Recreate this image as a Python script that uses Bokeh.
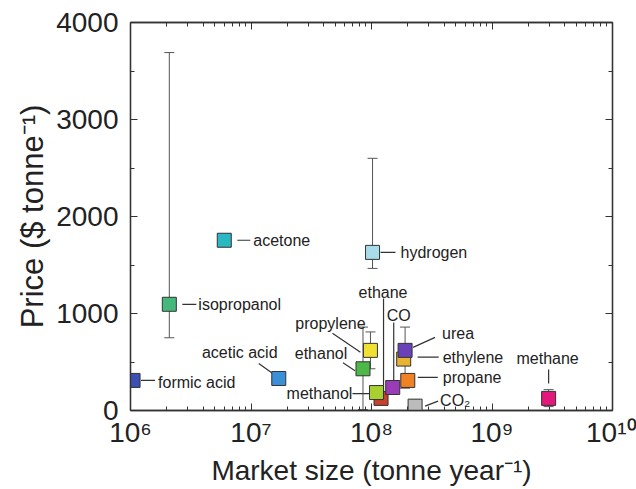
import math
from bokeh.plotting import figure
from bokeh.models import (ColumnDataSource, FixedTicker, LogAxis, LinearAxis,
                          CustomJSTickFormatter, Range1d)
from bokeh.embed import file_html
from bokeh.resources import INLINE
from bokeh.core.properties import value

# ---------------- data ----------------
names = ["formic acid", "isopropanol", "acetone", "acetic acid", "hydrogen",
         "propylene", "ethanol", "ethane", "methanol", "CO", "ethylene",
         "urea", "propane", "CO\u2082", "methane"]
market = [1.05e6, 2.1e6, 6.0e6, 1.7e7, 1.02e8,
          9.8e7, 8.5e7, 1.2e8, 1.1e8, 1.5e8, 1.85e8,
          1.9e8, 2.0e8, 2.3e8, 2.95e9]
price = [310, 1095, 1755, 330, 1630,
         620, 430, 125, 185, 237, 530,
         620, 310, 45, 125]

err_names = ["isopropanol", "hydrogen", "propylene", "ethanol", "urea", "CO\u2082", "methane"]
err_low = [750, 1465, 430, 10, 230, 20, 40]
err_high = [3690, 2600, 810, 860, 860, 110, 215]

x_ticks = [1e6, 1e7, 1e8, 1e9, 1e10]
y_ticks = [0, 1000, 2000, 3000, 4000]

# ---------------- styles ----------------
colors = {
    "formic acid": "#3b4fb4", "isopropanol": "#45b97c", "acetone": "#2bb8c2",
    "acetic acid": "#3a8fd6", "hydrogen": "#a9dcea", "propylene": "#f0e032",
    "ethanol": "#4db848", "ethane": "#c8402e", "methanol": "#a8d030",
    "CO": "#9a3cb8", "ethylene": "#e8b232", "urea": "#6a42b8",
    "propane": "#f08224", "CO\u2082": "#bcbcbc", "methane": "#e4187c",
}
# label placement in screen pixels relative to the marker centre:
# (text dx, text dy, align, leader x0, y0, x1, y1)
label_style = {
    "formic acid": (25, 2, "left", 8, 0, 22, 0),
    "isopropanol": (29, 0, "left", 13, 0, 27, 0),
    "acetone": (29, 0, "left", 13, 0, 26, 0),
    "acetic acid": (-39, -26, "center", -20, -15, -6, -5),
    "hydrogen": (28, 0, "left", 8, 0, 23, 0),
    "propylene": (-40, -27, "center", -38, -17, -10, 2),
    "ethanol": (-42, -15, "center", -20, -6, -8, 2),
    "ethane": (2, -106, "center", 2.5, -100, 2.5, -6),
    "methanol": (-57, 1, "center", -24, 1, -7, 1),
    "CO": (6, -72, "center", 1, -65, 1, -7),
    "ethylene": (39, -2, "left", 14, -2, 35, -2),
    "urea": (37, -17, "left", 30, -13, 8, -3),
    "propane": (35, -3, "left", 10, -3, 30, -3),
    "CO\u2082": (25, -6, "left", 10, 0, 23, -5),
    "methane": (-1, -40, "center", 0, -29, 0, -15),
}

FONT = "Liberation Sans"
W, H = 636, 489
ML, MR, MT, MB = 130, 24, 22, 79
PX_PER_DECADE = (W - ML - MR) / 4.0
PX_PER_UNIT = (H - MT - MB) / 4000.0


def shift_x(x, dx):
    return x * 10 ** (dx / PX_PER_DECADE)


def shift_y(y, dy):
    return y - dy / PX_PER_UNIT


p = figure(width=W, height=H, x_axis_type="log",
           x_range=Range1d(1e6, 1e10), y_range=Range1d(0, 4000),
           output_backend="svg", toolbar_location=None,
           min_border_left=ML, min_border_right=MR,
           min_border_top=MT, min_border_bottom=MB)
p.grid.visible = False
p.outline_line_color = "#333333"
p.outline_line_width = 1.3
p.background_fill_color = "white"
p.border_fill_color = "white"

x_minor = [k * 10 ** e for e in range(6, 10) for k in range(2, 10)]
xt = FixedTicker(ticks=x_ticks, minor_ticks=x_minor)
yt = FixedTicker(ticks=y_ticks, minor_ticks=[500, 1500, 2500, 3500])

sup_fmt = CustomJSTickFormatter(code="""
const sup = {"0":"\u2070","1":"\u00b9","2":"\u00b2","3":"\u00b3","4":"\u2074",
             "5":"\u2075","6":"\u2076","7":"\u2077","8":"\u2078","9":"\u2079"};
const e = Math.round(Math.log10(tick));
return "10" + String(e).split("").map(c => sup[c]).join("");
""")


def style_axis(ax):
    ax.axis_line_color = "#333333"
    ax.axis_line_width = 1.3
    ax.major_tick_line_color = "#333333"
    ax.minor_tick_line_color = "#333333"
    ax.major_tick_in = 7
    ax.major_tick_out = 0
    ax.minor_tick_in = 4
    ax.minor_tick_out = 0
    ax.major_label_text_font = FONT
    ax.axis_label_text_font = FONT
    ax.major_label_text_color = "#222222"
    ax.axis_label_text_color = "#222222"
    ax.axis_label_text_font_style = "normal"


xa = p.xaxis[0]
xa.ticker = xt
xa.formatter = sup_fmt
style_axis(xa)
xa.major_label_text_font_size = "28px"
xa.axis_label = "Market size (tonne year\u207b\u00b9)"
xa.axis_label_text_font_size = "28px"
xa.major_label_standoff = 6
xa.axis_label_standoff = 4

ya = p.yaxis[0]
ya.ticker = yt
style_axis(ya)
ya.major_label_text_font_size = "28px"
ya.axis_label = "Price ($ tonne\u207b\u00b9)"
ya.axis_label_text_font_size = "31px"
ya.major_label_standoff = 12
ya.axis_label_standoff = 3

top = LogAxis(ticker=xt)
style_axis(top)
top.major_label_text_font_size = "1px"
top.major_label_text_alpha = 0
top.major_label_standoff = 0
p.add_layout(top, "above")
right = LinearAxis(ticker=yt)
style_axis(right)
right.major_label_text_font_size = "1px"
right.major_label_text_alpha = 0
right.major_label_standoff = 0
p.add_layout(right, "right")

# ---------------- error bars ----------------
lookup = dict(zip(names, market))
ex = [lookup[n] for n in err_names]
err_src = ColumnDataSource(dict(x=ex, lo=err_low, hi=err_high))
p.segment(x0="x", y0="lo", x1="x", y1="hi", source=err_src,
          line_color="#555555", line_width=1)
p.scatter(x="x", y="hi", marker="dash", size=10, line_color="#555555",
          line_width=1, source=err_src)
p.scatter(x="x", y="lo", marker="dash", size=10, line_color="#555555",
          line_width=1, source=err_src)

# ---------------- leaders ----------------
lx0, ly0, lx1, ly1 = [], [], [], []
tdx, tdy, talign = [], [], []
for n, m, pr in zip(names, market, price):
    dx, dy, al, a0, b0, a1, b1 = label_style[n]
    lx0.append(shift_x(m, a0)); ly0.append(shift_y(pr, b0))
    lx1.append(shift_x(m, a1)); ly1.append(shift_y(pr, b1))
    tdx.append(dx); tdy.append(dy); talign.append(al)

lead_src = ColumnDataSource(dict(x0=lx0, y0=ly0, x1=lx1, y1=ly1))
p.segment(x0="x0", y0="y0", x1="x1", y1="y1", source=lead_src,
          line_color="#333333", line_width=1.2)

# ---------------- squares ----------------
pt_src = ColumnDataSource(dict(x=market, y=price, name=names,
                               color=[colors[n] for n in names],
                               dx=tdx, dy=tdy, align=talign))
p.scatter(x="x", y="y", marker="square", size=14, fill_color="color",
          line_color="#333333", line_width=1, source=pt_src)

p.text(x="x", y="y", text="name", x_offset="dx", y_offset="dy",
       text_align="align", text_baseline="middle",
       text_font=value(FONT), text_font_size="16px", text_color="#222222",
       source=pt_src)

open("out.html", "w").write(file_html(p, INLINE))
